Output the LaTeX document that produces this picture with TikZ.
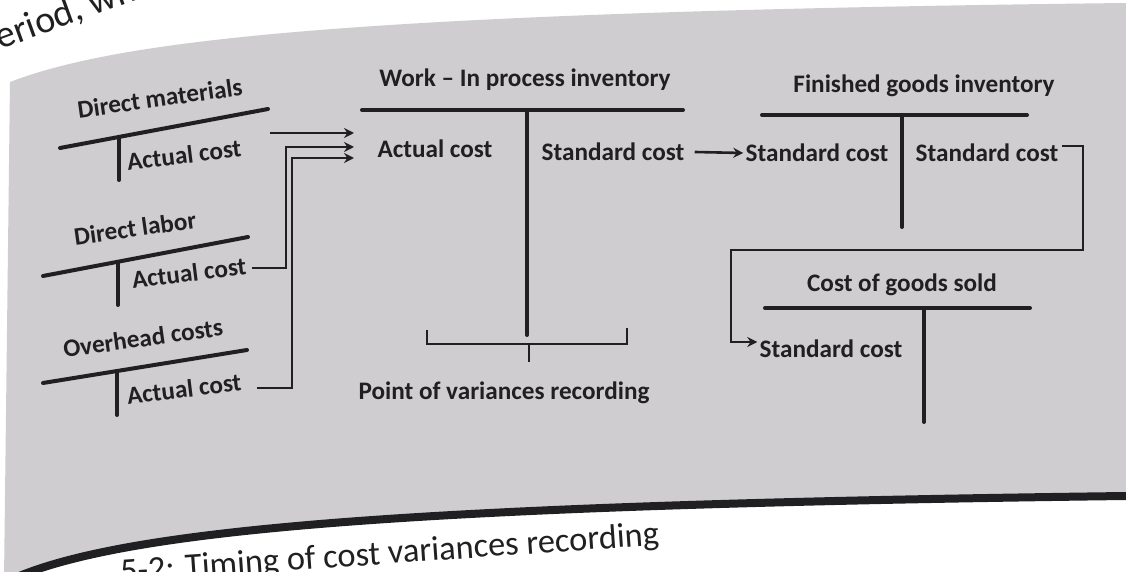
\documentclass[tikz,border=0pt]{standalone}
\usepackage{fontspec}
\setmainfont{Carlito}
\usetikzlibrary{arrows.meta}
\definecolor{ink}{RGB}{32,32,34}
\definecolor{paper}{RGB}{207,205,208}
\tikzset{
  lbl/.style={font=\fontsize{12.6}{14}\selectfont\bfseries, text=ink, inner sep=1pt},
  tbar/.style={draw=ink, line width=2pt, line cap=round},
  conn/.style={draw=ink, line width=1.3pt},
  tip/.style={-{Stealth[length=5pt,width=5pt]}},
  brace/.style={draw=ink, line width=1.1pt},
}
\begin{document}
\begin{tikzpicture}[x=0.5pt,y=-0.5pt]
\useasboundingbox (0,0) rectangle (1126,572);
\clip (0,0) rectangle (1126,572);
% page and shaded panel
\fill[white] (0,0) rectangle (1126,572);
\fill[paper] (10,82) .. controls (120,40) and (350,12) .. (1126,3)
  -- (1126,496) .. controls (400,505) and (120,530) .. (10,580) -- (4,580) -- cycle;
\draw[ink, line width=4pt] (10,580) .. controls (120,530) and (400,505) .. (1126,496);
\node[anchor=base west, rotate=20, font=\fontsize{19}{21}\selectfont, text=ink] (runin) at (-6,52) {eriod, when};
\node[anchor=base west, rotate=4, font=\fontsize{17.2}{19}\selectfont, text=ink] (cap) at (114,583) {5-2: Timing of cost variances recording};

% direct materials
\node[lbl, rotate=8] (dmT) at (160,98) {Direct materials};
\node[lbl, rotate=7] (dmA) at (184,155) {Actual cost};
\draw[tbar] (60,148) -- (268,109);
\draw[tbar] (119,137) -- (119,180);
% direct labor
\node[lbl, rotate=8] (dlT) at (135,228) {Direct labor};
\node[lbl, rotate=7] (dlA) at (189,273) {Actual cost};
\draw[tbar] (43,276) -- (248,237);
\draw[tbar] (118,262) -- (118,305);
% overhead
\node[lbl, rotate=8] (ohT) at (143,338) {Overhead costs};
\node[lbl, rotate=7] (ohA) at (184,389) {Actual cost};
\draw[tbar] (43,383) -- (247,350);
\draw[tbar] (117,371) -- (117,415);

% work in process
\node[lbl] (wipT) at (525,80) {Work – In process inventory};
\node[lbl] (wipA) at (435,149) {Actual cost};
\node[lbl] (wipS) at (613,152) {Standard cost};
\draw[tbar] (362,110) -- (683,110);
\draw[tbar] (527,110) -- (527,335);
\node[lbl] (var) at (504,393) {Point of variances recording};
\coordinate (brL) at (427,330);
\coordinate (brR) at (627,328);
\coordinate (brM) at (529,344);
\draw[brace] (brL) -- (brL |- brM) -- (brR |- brM) -- (brR);
\draw[brace] (brM) -- ++(0,18);

% finished goods
\node[lbl] (fgT) at (924,86) {Finished goods inventory};
\node[lbl] (fgL) at (817,153) {Standard cost};
\node[lbl] (fgR) at (987,153) {Standard cost};
\draw[tbar] (762,115) -- (1027,115);
\draw[tbar] (902,115) -- (902,227);

% cost of goods sold
\node[lbl] (cgT) at (902,285) {Cost of goods sold};
\node[lbl] (cgS) at (831,349) {Standard cost};
\draw[tbar] (765,308) -- (1030,308);
\draw[tbar] (924,308) -- (924,422);

% flows into work in process
\coordinate (dmOut) at (270,133);
\coordinate (dlOut) at (252,268);
\coordinate (ohOut) at (257,388);
\coordinate (in1) at (354,133);
\coordinate (in2) at (354,147);
\coordinate (in3) at (354,158);
\draw[conn, tip] (dmOut) -- (in1);
\draw[conn, tip] (dlOut) -- (286,268) -- (286,147) -- (in2);
\draw[conn, tip] (ohOut) -- (292,388) -- (292,158) -- (in3);

% standard cost transfers
\draw[conn, tip] (wipS.east) ++(8,0) coordinate (wipOut) -- (fgL.west);
\coordinate (fgOut) at (1062,146);
\draw[conn, tip] (fgOut) -- (1083,146) -- (1083,250) -- (731,250) -- (731,342) -- (cgS.west |- 0,342);
\end{tikzpicture}
\end{document}
